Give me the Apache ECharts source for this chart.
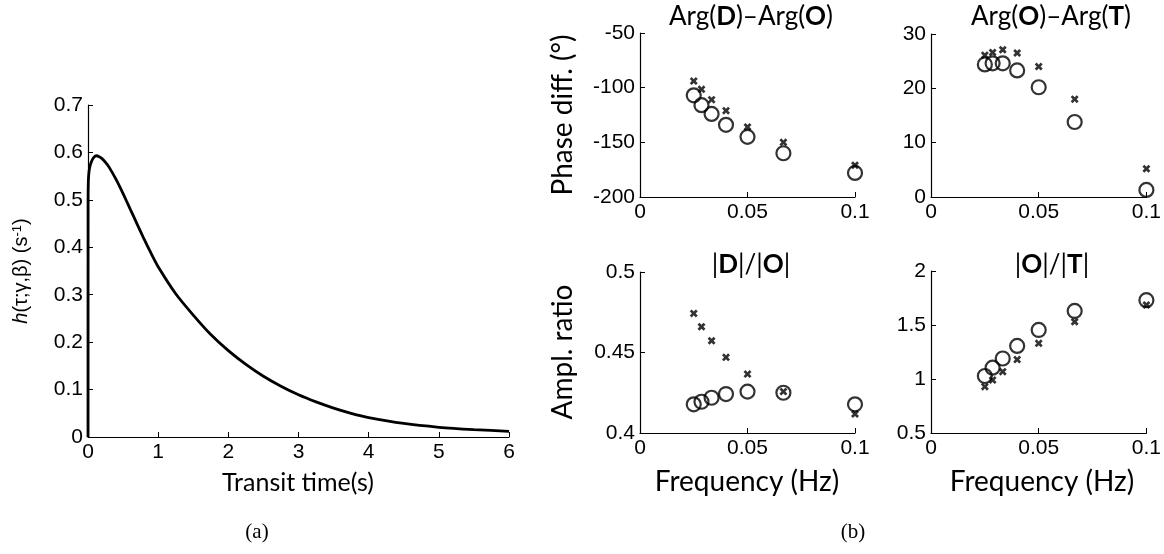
<!DOCTYPE html>
<html>
<head>
<meta charset="utf-8">
<script src="https://cdn.jsdelivr.net/npm/echarts@6/dist/echarts.min.js"></script>
<style>
html,body{margin:0;padding:0;background:#fff;}
#c{width:1164px;height:554px;}
</style>
</head>
<body>
<div id="c"></div>
<script>
// ---- Panel (a): transit time distribution ----
var tauValues = [0, 0.001, 0.005, 0.015, 0.03, 0.05, 0.08, 0.12, 0.16, 0.2, 0.25, 0.3, 0.4, 0.5, 0.6, 0.7, 0.8, 0.9, 1.0, 1.25, 1.5, 1.75, 2.0, 2.25, 2.5, 2.75, 3.0, 3.25, 3.5, 3.75, 4.0, 4.5, 5.0, 5.5, 6.0];
var hValues = [0, 0.50, 0.54, 0.56, 0.572, 0.581, 0.589, 0.593, 0.591, 0.587, 0.579, 0.569, 0.543, 0.513, 0.481, 0.449, 0.417, 0.387, 0.359, 0.302, 0.257, 0.216, 0.182, 0.153, 0.128, 0.107, 0.089, 0.074, 0.061, 0.050, 0.041, 0.0285, 0.0205, 0.0155, 0.012];

// ---- Panel (b): frequencies ----
var freqs = [0.025, 0.0286, 0.0333, 0.04, 0.05, 0.0667, 0.1];
var phaseDOcircle = [-107, -116, -124, -134, -145, -160, -178];
var phaseDOcross  = [-94, -101.5, -111, -121, -136, -150, -171];
var phaseOTcircle = [24.4, 24.6, 24.6, 23.3, 20.2, 13.8, 1.3];
var phaseOTcross  = [26.1, 26.6, 27.1, 26.5, 24.0, 18.0, 5.2];
var ampDOcircle = [0.4178, 0.4194, 0.4219, 0.4242, 0.4257, 0.4250, 0.4178];
var ampDOcross  = [0.4743, 0.4660, 0.4573, 0.4470, 0.4366, 0.4257, 0.4118];
var ampOTcircle = [1.028, 1.105, 1.190, 1.306, 1.454, 1.630, 1.730];
var ampOTcross  = [0.929, 0.990, 1.068, 1.180, 1.330, 1.530, 1.685];

function pairs(xs, ys){ return xs.map(function(x,i){ return [x, ys[i]]; }); }

var TICKFONT = 'Liberation Sans';
var NAMEFONT = 'Lato';
var CROSS = 'path://M0,2.4L2.4,0L5,2.6L7.6,0L10,2.4L7.4,5L10,7.6L7.6,10L5,7.4L2.4,10L0,7.6L2.6,5Z';

function axisBase(extra){
  var a = {
    type: 'value',
    axisLine: {show: true, onZero: false, lineStyle: {color: '#000', width: 1.2}},
    axisTick: {show: true, inside: true, length: 5, lineStyle: {color: '#000', width: 1}},
    splitLine: {show: false},
    axisLabel: {color: '#000', fontFamily: TICKFONT, fontSize: 21, margin: 5}
  };
  for (var k in extra) a[k] = extra[k];
  return a;
}

var grids = [
  {left: 88, top: 105, width: 421, height: 332},
  {left: 640, top: 33, width: 215, height: 164},
  {left: 931, top: 34, width: 216, height: 163},
  {left: 640, top: 272, width: 215, height: 161},
  {left: 931, top: 271, width: 216, height: 162}
];

var xAxes = [
  axisBase({gridIndex: 0, min: 0, max: 6, interval: 1}),
  axisBase({gridIndex: 1, min: 0, max: 0.1, interval: 0.05}),
  axisBase({gridIndex: 2, min: 0, max: 0.1, interval: 0.05}),
  axisBase({gridIndex: 3, min: 0, max: 0.1, interval: 0.05}),
  axisBase({gridIndex: 4, min: 0, max: 0.1, interval: 0.05})
];
var yAxes = [
  axisBase({gridIndex: 0, min: 0, max: 0.7, interval: 0.1}),
  axisBase({gridIndex: 1, min: -200, max: -50, interval: 50}),
  axisBase({gridIndex: 2, min: 0, max: 30, interval: 10}),
  axisBase({gridIndex: 3, min: 0.4, max: 0.5, interval: 0.05}),
  axisBase({gridIndex: 4, min: 0.5, max: 2, interval: 0.5})
];

function circleSeries(idx, ys){
  return {type: 'scatter', xAxisIndex: idx, yAxisIndex: idx, symbol: 'circle', symbolSize: 14,
    itemStyle: {color: 'rgba(0,0,0,0)', borderColor: '#000', borderWidth: 2.2},
    data: pairs(freqs, ys), z: 2};
}
function crossSeries(idx, ys){
  return {type: 'scatter', xAxisIndex: idx, yAxisIndex: idx, symbol: CROSS, symbolSize: 8,
    itemStyle: {color: '#000'}, data: pairs(freqs, ys), z: 3};
}

var series = [
  {type: 'line', xAxisIndex: 0, yAxisIndex: 0, data: pairs(tauValues, hValues),
   showSymbol: false, smooth: 0.2,
   lineStyle: {color: '#000', width: 2.8}},
  circleSeries(1, phaseDOcircle), crossSeries(1, phaseDOcross),
  circleSeries(2, phaseOTcircle), crossSeries(2, phaseOTcross),
  circleSeries(3, ampDOcircle), crossSeries(3, ampDOcross),
  circleSeries(4, ampOTcircle), crossSeries(4, ampOTcross)
];

function txt(x, y, text, font, size, opts){
  var st = {text: text, x: 0, y: 0, fill: '#000', font: size + 'px "' + font + '"',
            textAlign: 'center', textVerticalAlign: 'middle', align: 'center', verticalAlign: 'middle'};
  if (opts && opts.rich) st.rich = opts.rich;
  return {type: 'text', x: x, y: y, rotation: (opts && opts.rot) || 0, style: st, silent: true};
}

var TS = 26;
var boldRich = {b: {fontFamily: NAMEFONT, fontSize: TS, fontWeight: 'bold', color: '#000'}};

var graphics = [
  txt(21, 271, '{i|h}(τ;γ,β) (s{sup|-1})', TICKFONT, 20, {rot: Math.PI/2, rich: {
    i: {fontFamily: TICKFONT, fontSize: 20, fontStyle: 'italic', color: '#000'},
    sup: {fontFamily: TICKFONT, fontSize: 13, verticalAlign: 'top', color: '#000'}
  }}),
  txt(298, 483, 'Transit time(s)', NAMEFONT, 25),
  txt(747, 482, 'Frequency (Hz)', NAMEFONT, 28),
  txt(1042, 482, 'Frequency (Hz)', NAMEFONT, 28),
  txt(563, 115, 'Phase diff. (°)', NAMEFONT, 28, {rot: Math.PI/2}),
  txt(563, 352, 'Ampl. ratio', NAMEFONT, 28, {rot: Math.PI/2}),
  txt(751, 17, 'Arg({b|D})–Arg({b|O})', NAMEFONT, TS, {rich: boldRich}),
  txt(1051, 17, 'Arg({b|O})–Arg({b|T})', NAMEFONT, TS, {rich: boldRich}),
  txt(751, 265, '|{b|D}|/|{b|O}|', NAMEFONT, TS, {rich: boldRich}),
  txt(1052, 265, '|{b|O}|/|{b|T}|', NAMEFONT, TS, {rich: boldRich}),
  txt(257, 532, '(a)', 'Liberation Serif', 21),
  txt(853, 532, '(b)', 'Liberation Serif', 21)
];

var chart = echarts.init(document.getElementById('c'), null, {renderer: 'canvas'});
chart.setOption({
  backgroundColor: '#fff',
  animation: false,
  grid: grids,
  xAxis: xAxes,
  yAxis: yAxes,
  series: series,
  graphic: graphics
});
</script>
</body>
</html>
